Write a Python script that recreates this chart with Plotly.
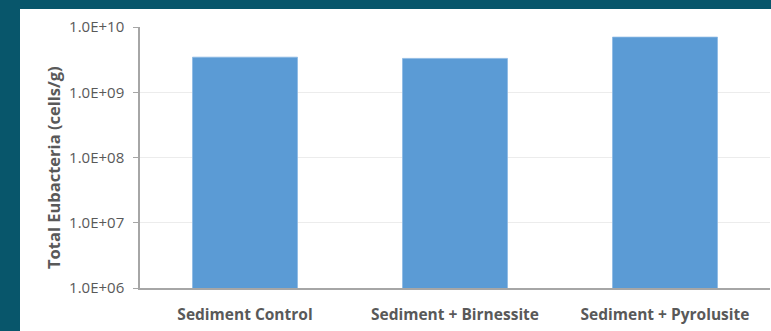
import plotly.graph_objects as go

# Data
categories = ["Sediment Control", "Sediment + Birnessite", "Sediment + Pyrolusite"]
eubacteria = [3.45e9, 3.3e9, 7.0e9]
tick_values = [1e6, 1e7, 1e8, 1e9, 1e10]
tick_labels = ["1.0E+06", "1.0E+07", "1.0E+08", "1.0E+09", "1.0E+10"]
y_title = "Total Eubacteria (cells/g)"

W, H = 771, 331
ML, MR, MT, MB = 140, 1, 27, 43
plot_w = W - ML - MR
plot_h = H - MT - MB

# white card inside a teal frame (frame: 20px left, 9px top)
card_x0 = (20 - ML) / plot_w
card_x1 = (W - ML) / plot_w + 0.01
card_y0 = -(MB + 5) / plot_h
card_y1 = (H - 9 - MB) / plot_h

teal = "#08566b"
text_col = "#595959"
axis_col = "#a6a6a6"

fig = go.Figure(
    go.Bar(
        x=categories,
        y=eubacteria,
        width=0.5,
        marker=dict(color="#5b9bd5", line=dict(color="#8db9e3", width=0.8)),
    )
)

fig.add_shape(
    type="rect", xref="paper", yref="paper",
    x0=card_x0, x1=card_x1, y0=card_y0, y1=card_y1,
    fillcolor="white", line=dict(width=0), layer="below",
)

# rotated y-axis title, placed slightly below the plot's vertical centre
fig.add_annotation(
    text=y_title, textangle=-90, showarrow=False,
    xref="paper", yref="paper",
    x=(53 - ML) / plot_w, y=(H - MB - 168) / plot_h,
    xanchor="center", yanchor="middle",
    font=dict(size=16.5, color=text_col, family="Open Sans", weight="bold"),
)

fig.update_layout(
    width=W, height=H,
    margin=dict(l=ML, r=MR, t=MT, b=MB),
    paper_bgcolor=teal,
    plot_bgcolor="rgba(0,0,0,0)",
    showlegend=False,
    bargap=0.5,
    font=dict(family="Open Sans", color=text_col),
)

fig.update_xaxes(
    showline=True, linecolor=axis_col, linewidth=1.5,
    showgrid=False, ticks="",
    tickfont=dict(size=15.5, color=text_col, family="Open Sans", weight="bold"),
    ticklabelstandoff=12,
)

fig.update_yaxes(
    type="log", range=[6, 10],
    tickvals=tick_values, ticktext=tick_labels,
    showline=True, linecolor=axis_col, linewidth=1.5,
    ticks="outside", ticklen=5, tickcolor=axis_col, tickwidth=1.2,
    showgrid=True, gridcolor="#ececec", gridwidth=1,
    tickfont=dict(size=15, color=text_col, family="Open Sans"),
    ticklabelstandoff=6,
    zeroline=False,
)

fig.write_html("out.html")
